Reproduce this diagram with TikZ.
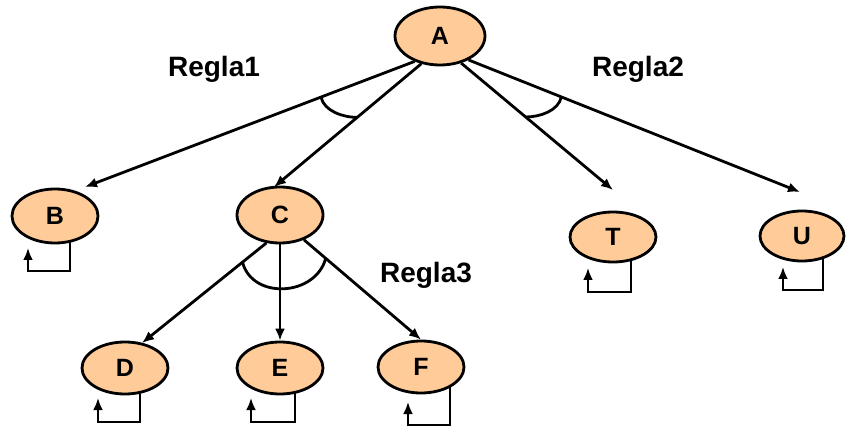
\documentclass[tikz,border=0pt]{standalone}
\usepackage{fontspec}
\setmainfont{Liberation Sans}
\usetikzlibrary{shapes.geometric,arrows.meta,calc}
\definecolor{peach}{RGB}{255,204,153}
\begin{document}
\begin{tikzpicture}[x=1pt,y=-1pt,line width=2.8pt,
  st/.style={ellipse,draw=black,fill=peach,minimum width=86pt,minimum height=54pt,inner sep=0pt,
             font=\fontsize{25}{28}\selectfont\bfseries},
  arr/.style={-{Latex[length=12pt,width=10pt]}},
  lbl/.style={font=\fontsize{28}{32}\selectfont\bfseries,anchor=base}]
\useasboundingbox (0,0) rectangle (846,430);
% nodes
\node[st,minimum width=90pt,minimum height=58pt] (A) at (440,36) {A};
\node[st] (B) at (55,216) {B};
\node[st,minimum height=56pt] (C) at (280,215) {C};
\node[st,minimum height=50pt] (T) at (613,237) {T};
\node[st,minimum width=84pt,minimum height=50pt] (U) at (802,236) {U};
\node[st,minimum height=52pt] (D) at (125,368) {D};
\node[st,minimum height=52pt] (E) at (280,368) {E};
\node[st,minimum height=52pt] (F) at (421,367) {F};
% labels
\node[lbl] (R1) at (214,77) {Regla1};
\node[lbl] (R2) at (638,77) {Regla2};
\node[lbl] (R3) at (426,283) {Regla3};
% edges from A
\draw[arr] (A.225) -- coordinate[pos=0.284] (r1a) ($(B)+(30,-29)$);
\draw[arr] (A.236) -- coordinate[pos=0.435] (r1b) ($(C)+(-6,-28)$);
\draw[arr] (A.-52) -- coordinate[pos=0.425] (r2a) ($(T)+(0,-47)$);
\draw[arr] (A.-40) -- coordinate[pos=0.28] (r2b) ($(U)+(-2,-44)$);
\draw (r1a) .. controls +(3,14) and +(-14,0) .. (r1b);
\draw (r2a) .. controls +(14,0) and +(-3,14) .. (r2b);
% edges from C
\draw[arr] (C.244) -- coordinate[pos=0.192] (r3a) ($(D)+(17,-25)$);
\draw[arr] (C.south) -- (E.north);
\draw[arr] (C.-46) -- coordinate[pos=0.186] (r3b) (F.north);
\draw (r3a) .. controls +(10,38) and +(-10,38) .. (r3b);
% self loops
\draw[arr] ($(B)+(15,25)$) -- ++(0,30) -| ($(B)+(-27,32)$);
\draw[arr] ($(T)+(18,23)$) -- ++(0,32) -| ($(T)+(-25,31)$);
\draw[arr] ($(U)+(21,22)$) -- ++(0,32) -| ($(U)+(-19,31)$);
\draw[arr] ($(D)+(15,24)$) -- ++(0,30) -| ($(D)+(-27,30)$);
\draw[arr] ($(E)+(15,24)$) -- ++(0,30) -| ($(E)+(-29,30)$);
\draw[arr] ($(F)+(29,20)$) -- ++(0,38) -| ($(F)+(-13,35)$);
\end{tikzpicture}
\end{document}
